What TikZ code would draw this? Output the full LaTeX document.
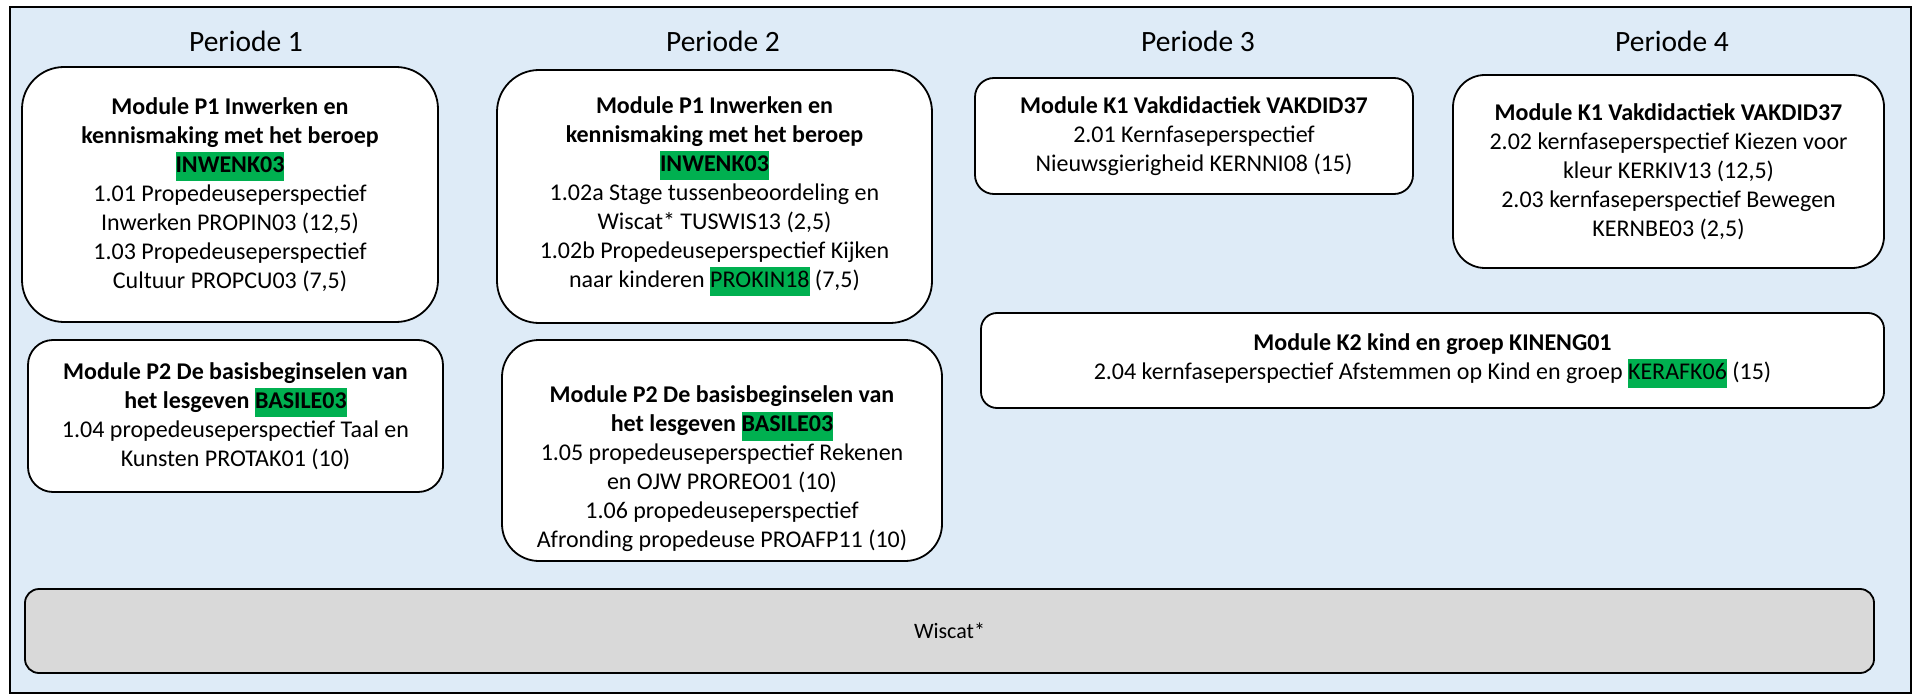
\documentclass[tikz,border=0pt]{standalone}
\usepackage{fontspec}
\setmainfont{Carlito}
\usetikzlibrary{positioning}
\definecolor{bgblue}{RGB}{222,235,247}
\definecolor{codegreen}{RGB}{0,176,80}
\definecolor{wiscatgray}{RGB}{217,217,217}
\newcommand{\hlcode}[1]{{\setlength{\fboxsep}{0pt}\colorbox{codegreen}{\strut #1}}}
\newcommand{\bodyfont}{\fontsize{24}{29}\selectfont}
\tikzset
{
    modulenode/.style = {rectangle, draw=black, line width=1.8pt, fill=white, align=center, font=\bodyfont, inner sep=0pt},
    periodnode/.style = {font=\fontsize{29.5}{35}\selectfont, anchor=base},
    wiscatnode/.style = {rectangle, draw=black, line width=1.8pt, fill=wiscatgray, font=\fontsize{22}{26}\selectfont, inner sep=0pt}
}

\begin{document}
\begin{tikzpicture}[x=1pt, y=-1pt]
	\useasboundingbox (0,0) rectangle (1921,695);
	\draw[line width=2.5pt, fill=bgblue] (10,7) rectangle (1911,693);

	% periodes
	\node[periodnode] (per1) at (246,52) {Periode 1};
	\node[periodnode] (per2) at (723,52) {Periode 2};
	\node[periodnode] (per3) at (1198,52) {Periode 3};
	\node[periodnode] (per4) at (1672,52) {Periode 4};

	% periode 1
	\node[modulenode, minimum width=416pt, minimum height=255pt, rounded corners=42pt] (p1a) at (230,194.5)
	{\textbf{Module P1 Inwerken en}\\\textbf{kennismaking met het beroep}\\\hlcode{\textbf{INWENK03}}\\
	1.01 Propedeuseperspectief\\Inwerken PROPIN03 (12,5)\\1.03 Propedeuseperspectief\\Cultuur PROPCU03 (7,5)};
	\node[modulenode, minimum width=415pt, minimum height=152pt, rounded corners=25pt] (p1b) at (235.5,416)
	{\textbf{Module P2 De basisbeginselen van}\\\textbf{het lesgeven} \hlcode{\textbf{BASILE03}}\\
	1.04 propedeuseperspectief Taal en\\Kunsten PROTAK01 (10)};

	% periode 2
	\node[modulenode, minimum width=435pt, minimum height=253pt, rounded corners=42pt] (p2a) at (714.5,196.5)
	{\textbf{Module P1 Inwerken en}\\\textbf{kennismaking met het beroep}\\\hlcode{\textbf{INWENK03}}\\
	1.02a Stage tussenbeoordeling en\\Wiscat* TUSWIS13 (2,5)\\1.02b Propedeuseperspectief Kijken\\naar kinderen \hlcode{PROKIN18} (7,5)};
	\node[modulenode, minimum width=440pt, minimum height=221pt, rounded corners=37pt] (p2b) at (722,450.5)
	{\rule{0pt}{54pt}\textbf{Module P2 De basisbeginselen van}\\\textbf{het lesgeven} \hlcode{\textbf{BASILE03}}\\
	1.05 propedeuseperspectief Rekenen\\en OJW PROREO01 (10)\\1.06 propedeuseperspectief\\Afronding propedeuse PROAFP11 (10)};

	% periode 3 en 4
	\node[modulenode, minimum width=438pt, minimum height=116pt, rounded corners=19pt] (p3a) at (1194,136)
	{\textbf{Module K1 Vakdidactiek VAKDID37}\\2.01 Kernfaseperspectief\\Nieuwsgierigheid KERNNI08 (15)};
	\node[modulenode, minimum width=431pt, minimum height=193pt, rounded corners=32pt] (p4a) at (1668.5,171.5)
	{\textbf{Module K1 Vakdidactiek VAKDID37}\\2.02 kernfaseperspectief Kiezen voor\\kleur KERKIV13 (12,5)\\
	2.03 kernfaseperspectief Bewegen\\KERNBE03 (2,5)};
	\node[modulenode, minimum width=903pt, minimum height=95pt, rounded corners=16pt] (k2) at (1432.5,360.5)
	{\textbf{Module K2 kind en groep KINENG01}\\2.04 kernfaseperspectief Afstemmen op Kind en groep \hlcode{KERAFK06} (15)};

	% wiscat
	\node[wiscatnode, minimum width=1849pt, minimum height=84pt, rounded corners=14pt] (wiscat) at (949.5,631) {Wiscat*};
\end{tikzpicture}
\end{document}
